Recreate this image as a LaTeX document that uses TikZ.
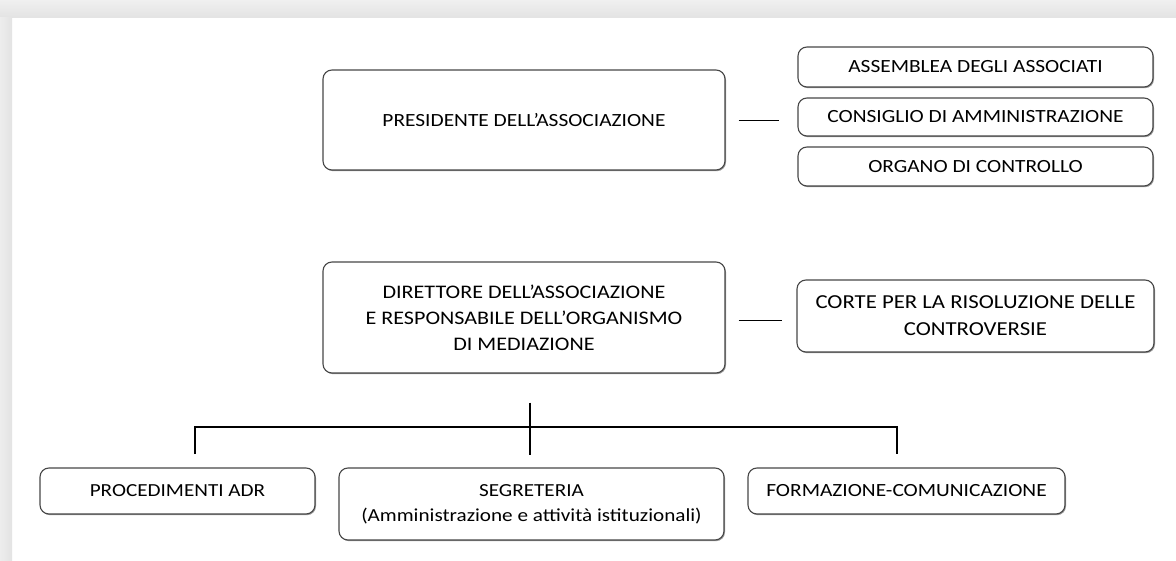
\documentclass[tikz,border=0pt]{standalone}
\usepackage{fontspec}
\setmainfont{Carlito}[FakeStretch=1.15]
\usetikzlibrary{shadows,calc}
\newcommand{\fs}[2]{\fontsize{#1}{#2}\selectfont}
\begin{document}
\begin{tikzpicture}[x=1pt,y=-1pt,
  box/.style={draw=black!72, line width=1.1pt, rounded corners=9pt, align=center, inner sep=0pt, fill=white,
    drop shadow={shadow xshift=1pt, shadow yshift=-1.2pt, fill=black!40, opacity=1}},
  link/.style={draw=black, line width=0.8pt},
  tree/.style={draw=black, line width=2.6pt}]
\useasboundingbox (0,0) rectangle (1176,561);
\fill[white] (0,0) rectangle (1176,561);
\shade[top color=black!6, bottom color=black!11] (0,0) rectangle (1176,18);
\shade[left color=black!7, right color=black!11] (0,18) rectangle (12,561);

\node[box, font=\fs{18.6}{26}, minimum width=402pt, minimum height=100pt] (pres) at (524,120) {PRESIDENTE DELL’ASSOCIAZIONE};
\node[box, font=\fs{18.6}{26}, minimum width=355pt, minimum height=40pt] (ass) at (975.5,67) {ASSEMBLEA DEGLI ASSOCIATI};
\node[box, font=\fs{18.6}{26}, minimum width=355pt, minimum height=38pt] (cons) at (975.5,117) {CONSIGLIO DI AMMINISTRAZIONE};
\node[box, font=\fs{18.6}{26}, minimum width=355pt, minimum height=39pt] (org) at (975.5,166.5) {ORGANO DI CONTROLLO};
\node[box, font=\fs{19.2}{26}, minimum width=402pt, minimum height=111pt] (dir) at (524,317.5) {DIRETTORE DELL’ASSOCIAZIONE\\E RESPONSABILE DELL’ORGANISMO\\DI MEDIAZIONE};
\node[box, font=\fs{19.8}{27}, minimum width=357pt, minimum height=72pt] (corte) at (975.5,316) {CORTE PER LA RISOLUZIONE DELLE\\CONTROVERSIE};
\node[box, font=\fs{18.4}{25}, minimum width=275pt, minimum height=46pt] (proc) at (177.5,491) {PROCEDIMENTI ADR};
\node[box, font=\fs{18.4}{25}, minimum width=385pt, minimum height=72pt] (seg) at (531.5,504) {SEGRETERIA\\(Amministrazione e attività istituzionali)};
\node[box, font=\fs{18.6}{25}, minimum width=317pt, minimum height=46pt] (form) at (906.5,491) {FORMAZIONE-COMUNICAZIONE};

\coordinate (p1) at ($(pres.east)+(13,0)$);
\coordinate (p2) at ($(pres.east)+(53,0)$);
\coordinate (d1) at ($(dir.east)+(13,2.5)$);
\coordinate (d2) at ($(dir.east)+(56,2.5)$);
\draw[link] (p1) -- (p2);
\draw[link] (d1) -- (d2);

\coordinate (top) at ($(dir.south)+(6,29)$);
\coordinate (mid) at ($(dir.south)+(6,54)$);
\coordinate (l) at (195,427);
\coordinate (r) at (897,427);
\coordinate (lb) at (195,454);
\coordinate (mb) at ($(dir.south)+(6,81)$);
\coordinate (rb) at (897,454);
\draw[tree] (top) -- (mb);
\draw[tree] (lb) -- (l) -- (r) -- (rb);
\end{tikzpicture}
\end{document}
